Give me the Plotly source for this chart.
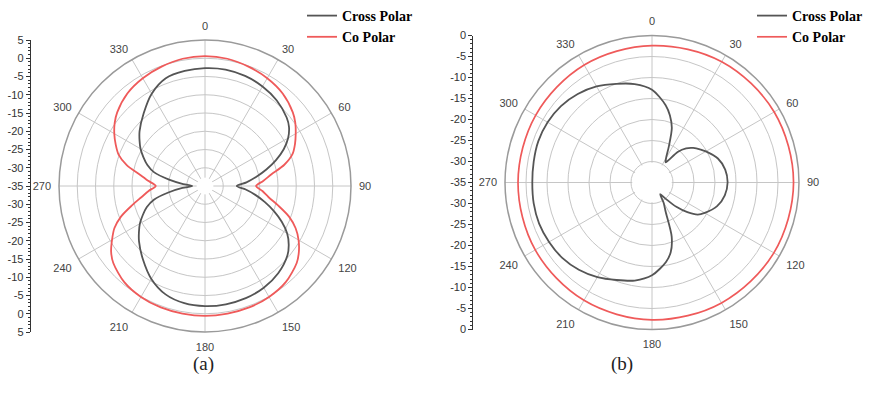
import plotly.graph_objects as go
import numpy as np

# ---------------- data (a) ----------------
THETA_A = [0, 10, 20, 30, 40, 50, 55, 60, 65, 70, 75, 80, 85, 90, 95, 100, 105, 110, 115, 120,
           125, 130, 140, 150, 160, 170, 180, 190, 200, 210, 220, 230, 235, 240, 245, 250, 255,
           260, 265, 270, 275, 280, 285, 290, 295, 300, 305, 310, 320, 330, 340, 350]
CROSS_A = [-2.7, -2.6, -2.9, -3.5, -4.4, -5.8, -6.9, -8.7, -11.2, -14.3, -17.6, -20.8, -23.6, -26.3,
           -23.8, -21.0, -18.0, -14.9, -11.8, -9.0, -7.0, -5.5, -3.8, -2.8, -2.3, -2.1, -2.1, -2.4,
           -3.4, -5.6, -8.6, -11.4, -12.9, -14.4, -16.2, -18.0, -20.5, -24.8, -28.8, -31.5, -29.0,
           -25.0, -20.6, -18.2, -16.4, -14.6, -13.1, -11.6, -8.9, -5.8, -3.6, -3.0]
CO_A = [0.6, 0.4, -0.2, -0.9, -1.9, -3.6, -4.8, -6.3, -7.8, -9.5, -12.5, -16.5, -19.0, -21.0,
        -19.2, -17.3, -14.2, -10.5, -7.6, -5.4, -3.6, -2.2, -0.6, 0.1, 0.4, 0.5, 0.6, 0.5, 0.4,
        0.1, -0.6, -2.2, -3.6, -5.6, -7.6, -10.5, -14.2, -17.3, -19.5, -21.5, -19.5, -16.8,
        -12.8, -9.8, -8.0, -6.3, -4.8, -3.6, -1.9, -0.9, -0.2, 0.4]

# ---------------- data (b) ----------------
THETA_B = [0, 10, 15, 20, 25, 30, 34, 40, 45, 50, 56, 60, 70, 80, 90, 100, 110, 120, 125, 130,
           135, 140, 145, 150, 155, 160, 165, 170, 180, 190, 200, 210, 220, 230, 240, 250, 260,
           270, 280, 290, 300, 310, 320, 330, 340, 350]
CROSS_B = [-12.9, -16.3, -18.5, -21.2, -25.5, -28.3, -29.2, -25.5, -23.5, -22.2, -21.0, -20.2,
           -18.3, -17.3, -17.0, -17.4, -18.5, -20.5, -21.7, -24.0, -26.8, -30.0, -31.6, -29.5,
           -27.3, -21.3, -17.8, -15.8, -12.9, -11.3, -10.3, -9.0, -7.9, -7.1, -6.7, -6.4, -6.4,
           -6.5, -6.4, -6.2, -6.3, -6.7, -7.5, -8.6, -10.0, -11.2]
THETA_B_CO = [0, 30, 60, 90, 120, 150, 180, 210, 240, 270, 300, 330]
CO_B = [-2.4, -1.8, -1.4, -1.3, -1.5, -1.9, -2.3, -2.6, -2.9, -3.1, -3.0, -2.7]

# ---------------- axis labels ----------------
ANGLE_TICKS = [0, 30, 60, 90, 120, 150, 180, 210, 240, 270, 300, 330]
ANGLE_LABELS = [str(a) for a in ANGLE_TICKS]
A_AXIS_LABELS = ["5", "0", "-5", "-10", "-15", "-20", "-25", "-30", "-35",
                 "-30", "-25", "-20", "-15", "-10", "-5", "0", "5"]
B_AXIS_LABELS = ["0", "-5", "-10", "-15", "-20", "-25", "-30", "-35",
                 "-30", "-25", "-20", "-15", "-10", "-5", "0"]
A_RANGE = [-35, 5]
B_RANGE = [-35, 0]

W, H = 880, 399
A_DOM_X = [59 / W, 351 / W]
A_DOM_Y = [67 / H, 359 / H]
B_DOM_X = [505 / W, 799 / W]
B_DOM_Y = [69.5 / H, 363.5 / H]

CROSS_COLOR = "#555555"
CO_COLOR = "#ef5a5a"
FINE_GRID = "#e8e8e8"
MAJOR_GRID = "#c6c6c6"
OUTER = "#9a9a9a"
LABEL_COLOR = "#444444"


def closed(theta, r):
    return list(theta) + [360], list(r) + [r[0]]


def fine_polar(dx, dy, rng, hole):
    fine = list(np.arange(rng[1] - 2.5, hole, -2.5))
    return dict(
        domain=dict(x=dx, y=dy), bgcolor="white",
        radialaxis=dict(range=rng, tickmode="array", tickvals=fine, showticklabels=False,
                        ticks="", showline=False, gridcolor=FINE_GRID, gridwidth=1),
        angularaxis=dict(rotation=90, direction="clockwise", tickmode="array",
                         tickvals=list(range(0, 360, 15)), showticklabels=False,
                         ticks="inside", ticklen=4, tickcolor=OUTER, showline=False,
                         gridcolor=FINE_GRID, gridwidth=1),
    )


def major_polar(dx, dy, rng):
    major = list(range(rng[1] - 5, -31, -5))
    return dict(
        domain=dict(x=dx, y=dy), bgcolor="rgba(0,0,0,0)",
        radialaxis=dict(range=rng, tickmode="array", tickvals=major, showticklabels=False,
                        ticks="", showline=False, gridcolor=MAJOR_GRID, gridwidth=1),
        angularaxis=dict(rotation=90, direction="clockwise", tickmode="array",
                         tickvals=ANGLE_TICKS, ticktext=ANGLE_LABELS,
                         ticks="outside", ticklen=5, tickcolor="rgba(0,0,0,0)",
                         showline=True, linecolor=OUTER, linewidth=1.5,
                         gridcolor=MAJOR_GRID, gridwidth=1,
                         tickfont=dict(family="Liberation Sans", size=11, color=LABEL_COLOR)),
    )


fig = go.Figure()

ring = list(range(0, 361, 5))

# (a)
fig.add_trace(go.Scatterpolar(r=[-32.7] * len(ring), theta=ring, subplot="polar2", mode="lines",
                              fill="toself", fillcolor="white", line=dict(width=0, color="white"),
                              showlegend=False, hoverinfo="skip"))
t, r = closed(THETA_A, CROSS_A)
fig.add_trace(go.Scatterpolar(r=r, theta=t, subplot="polar2", mode="lines", name="Cross Polar",
                              line=dict(color=CROSS_COLOR, width=1.8, shape="spline", smoothing=0.8),
                              legend="legend"))
t, r = closed(THETA_A, CO_A)
fig.add_trace(go.Scatterpolar(r=r, theta=t, subplot="polar2", mode="lines", name="Co Polar",
                              line=dict(color=CO_COLOR, width=1.8, shape="spline", smoothing=0.8),
                              legend="legend"))

# (b)
fig.add_trace(go.Scatterpolar(r=[-30.3] * len(ring), theta=ring, subplot="polar4", mode="lines",
                              fill="toself", fillcolor="white", line=dict(width=0, color="white"),
                              showlegend=False, hoverinfo="skip"))
t, r = closed(THETA_B, CROSS_B)
fig.add_trace(go.Scatterpolar(r=r, theta=t, subplot="polar4", mode="lines", name="Cross Polar",
                              line=dict(color=CROSS_COLOR, width=1.8, shape="spline", smoothing=0.8),
                              legend="legend2"))
t, r = closed(THETA_B_CO, CO_B)
fig.add_trace(go.Scatterpolar(r=r, theta=t, subplot="polar4", mode="lines", name="Co Polar",
                              line=dict(color=CO_COLOR, width=1.7, shape="spline", smoothing=1.0),
                              legend="legend2"))

# dummy traces for the side scales
fig.add_trace(go.Scatter(x=[None], y=[None], xaxis="x", yaxis="y", showlegend=False, hoverinfo="skip"))
fig.add_trace(go.Scatter(x=[None], y=[None], xaxis="x2", yaxis="y2", showlegend=False, hoverinfo="skip"))

a_span = A_RANGE[1] - A_RANGE[0]
b_span = B_RANGE[1] - B_RANGE[0]
a_pos = list(np.linspace(a_span, -a_span, len(A_AXIS_LABELS)))
b_pos = list(np.linspace(b_span, -b_span, len(B_AXIS_LABELS)))


def side_axis(dom, span, pos, labels, anchor):
    return dict(domain=dom, range=[-span, span], anchor=anchor, showgrid=False, zeroline=False,
                showline=True, linecolor="#333", linewidth=1, ticks="outside", ticklen=4,
                tickwidth=1, tickcolor="#333", tickmode="array", tickvals=pos, ticktext=labels,
                tickfont=dict(family="Liberation Sans", size=11, color="#333"),
                minor=dict(ticks="outside", ticklen=2, tickmode="linear", tick0=0, dtick=1,
                           tickcolor="#333", showgrid=False),
                automargin=False, fixedrange=True)


legend_font = dict(family="Liberation Serif", size=14, color="black", weight="bold")

fig.update_layout(
    width=W, height=H, margin=dict(l=0, r=0, t=0, b=0, pad=0, autoexpand=False),
    paper_bgcolor="white", plot_bgcolor="rgba(0,0,0,0)",
    font=dict(family="Liberation Sans", color=LABEL_COLOR),
    polar=fine_polar(A_DOM_X, A_DOM_Y, A_RANGE, -32.7),
    polar2=major_polar(A_DOM_X, A_DOM_Y, A_RANGE),
    polar3=fine_polar(B_DOM_X, B_DOM_Y, B_RANGE, -30.3),
    polar4=major_polar(B_DOM_X, B_DOM_Y, B_RANGE),
    xaxis=dict(domain=[30.7 / W, 31.5 / W], visible=False, anchor="y", fixedrange=True),
    yaxis=side_axis(A_DOM_Y, a_span, a_pos, A_AXIS_LABELS, "x"),
    xaxis2=dict(domain=[473.3 / W, 474 / W], visible=False, anchor="y2", fixedrange=True),
    yaxis2=side_axis(B_DOM_Y, b_span, b_pos, B_AXIS_LABELS, "x2"),
    showlegend=True,
    legend=dict(x=302 / W, y=1.0, xanchor="left", yanchor="top", bgcolor="rgba(0,0,0,0)",
                font=legend_font, tracegroupgap=0, itemwidth=30),
    legend2=dict(x=752 / W, y=1.0, xanchor="left", yanchor="top", bgcolor="rgba(0,0,0,0)",
                 font=legend_font, tracegroupgap=0, itemwidth=30),
    annotations=[
        dict(text="(a)", x=203 / W, y=35 / H, xref="paper", yref="paper", showarrow=False,
             xanchor="center", yanchor="middle",
             font=dict(family="Liberation Serif", size=19, color="#222")),
        dict(text="(b)", x=622 / W, y=35 / H, xref="paper", yref="paper", showarrow=False,
             xanchor="center", yanchor="middle",
             font=dict(family="Liberation Serif", size=19, color="#222")),
    ],
)

fig.write_html("out.html")
